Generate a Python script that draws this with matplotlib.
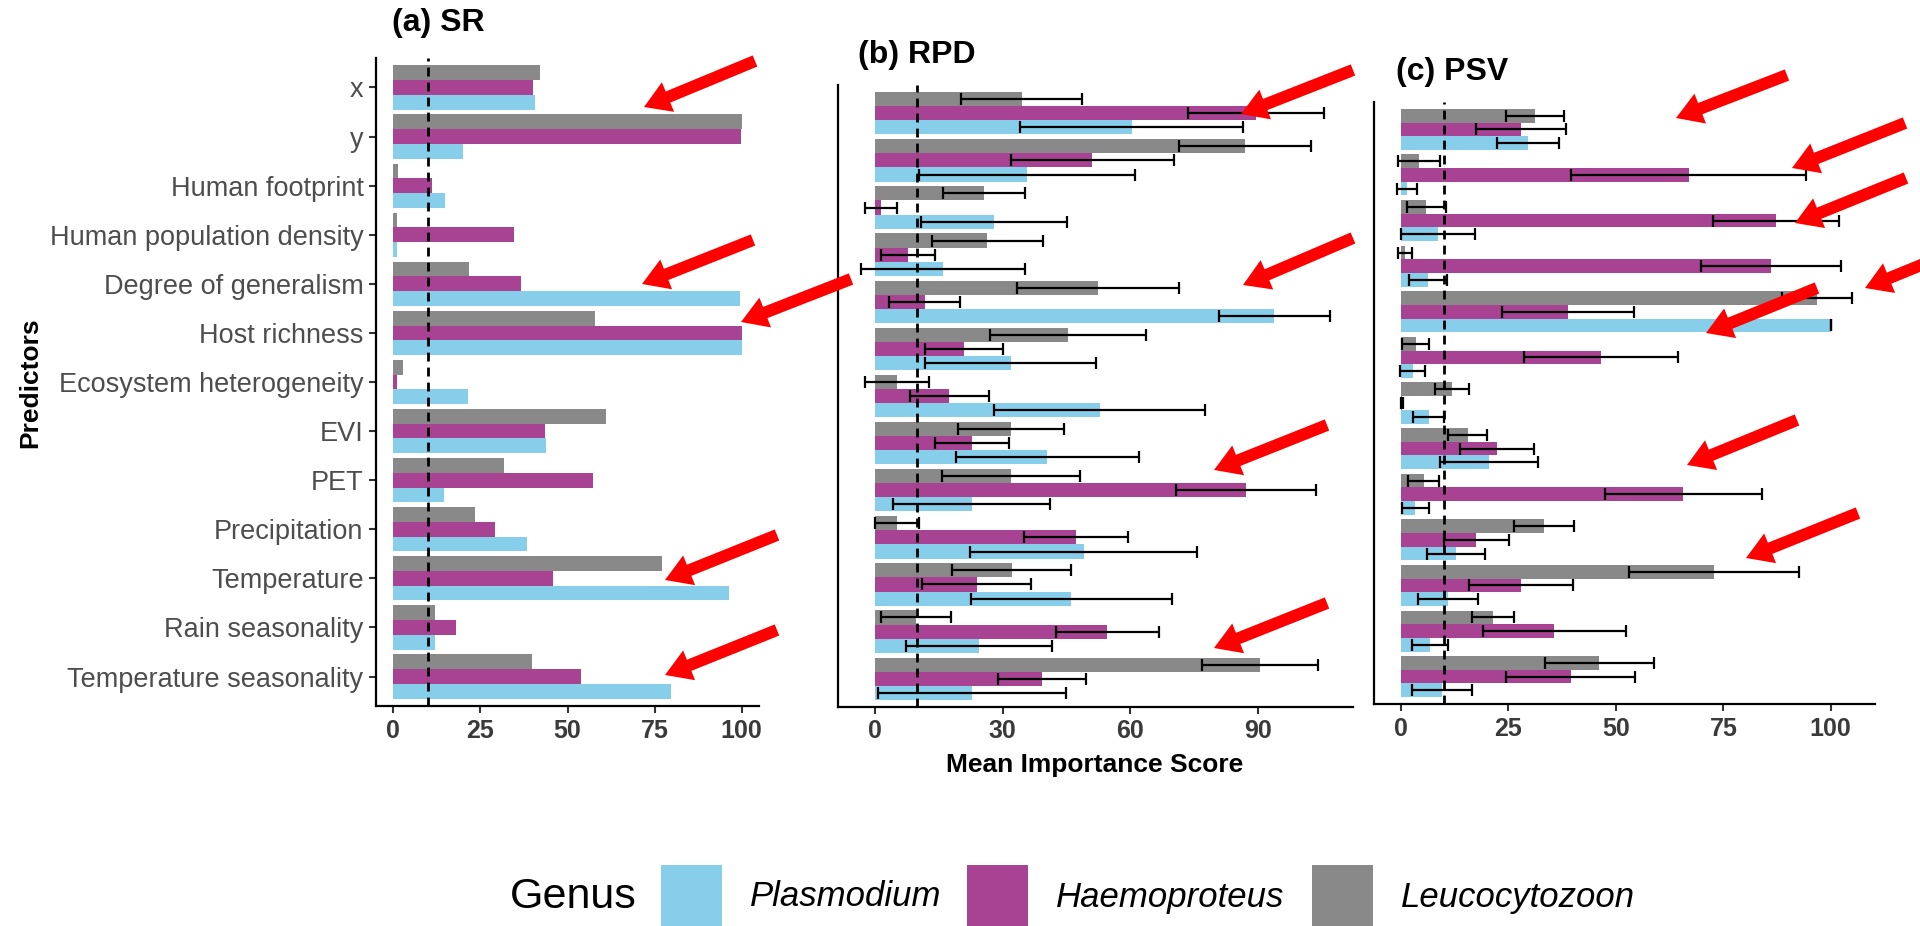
import numpy as np
import matplotlib
matplotlib.use("Agg")
import matplotlib.pyplot as plt
from matplotlib.patches import FancyArrow, Rectangle

plt.rcParams['font.family'] = ['Liberation Sans', 'DejaVu Sans']

# ---------------- data ----------------
predictors = ["x", "y", "Human footprint", "Human population density",
              "Degree of generalism", "Host richness", "Ecosystem heterogeneity",
              "EVI", "PET", "Precipitation", "Temperature", "Rain seasonality",
              "Temperature seasonality"]

genera = ["Plasmodium", "Haemoproteus", "Leucocytozoon"]
genus_colors = ["#87CEEB", "#A84394", "#898989"]

# (a) SR
sr_plas = [40.6, 19.9, 14.7, 1.0, 99.5, 100, 21.3, 43.9, 14.6, 38.3, 96.5, 12.0, 79.6]
sr_haem = [40.2, 99.8, 11.2, 34.5, 36.6, 100, 1.0, 43.5, 57.3, 29.1, 45.8, 18.0, 53.8]
sr_leuc = [42.2, 100, 1.4, 1.0, 21.6, 58.0, 2.8, 61.2, 31.7, 23.3, 77.0, 12.0, 39.8]

# (b) RPD: mean and sd
rpd_plas = [60.3, 35.7, 28.0, 16.1, 93.7, 31.9, 52.8, 40.5, 22.8, 49.0, 46.1, 24.5, 22.8]
rpd_plas_sd = [26.2, 25.3, 17.2, 19.2, 13.0, 20.0, 24.7, 21.4, 18.4, 26.6, 23.6, 17.2, 22.0]
rpd_haem = [89.4, 51.0, 1.5, 7.9, 11.7, 21.0, 17.5, 22.8, 87.1, 47.2, 23.9, 54.6, 39.3]
rpd_haem_sd = [15.9, 19.1, 3.7, 6.3, 8.4, 9.1, 9.3, 8.7, 16.5, 12.2, 12.7, 12.0, 10.3]
rpd_leuc = [34.5, 86.9, 25.6, 26.4, 52.4, 45.3, 5.3, 32.0, 32.0, 5.3, 32.1, 9.7, 90.3]
rpd_leuc_sd = [14.2, 15.5, 9.6, 13.0, 19.0, 18.3, 7.5, 12.4, 16.2, 5.2, 13.9, 8.3, 13.6]

# (c) PSV: mean and sd
psv_plas = [29.6, 1.3, 8.6, 6.2, 100, 2.7, 6.4, 20.4, 3.3, 12.8, 10.9, 6.7, 9.6]
psv_plas_sd = [7.2, 2.3, 8.6, 4.4, 0.0, 2.9, 3.6, 11.4, 3.1, 6.7, 7.0, 4.2, 7.0]
psv_haem = [28.0, 66.9, 87.3, 86.2, 38.9, 46.6, 0.2, 22.3, 65.7, 17.5, 28.0, 35.7, 39.5]
psv_haem_sd = [10.5, 27.3, 14.7, 16.3, 15.4, 17.9, 0.3, 8.7, 18.3, 7.6, 12.1, 16.7, 15.0]
psv_leuc = [31.2, 4.2, 5.9, 0.9, 96.8, 3.4, 11.9, 15.5, 5.3, 33.3, 72.8, 21.4, 46.1]
psv_leuc_sd = [6.8, 4.8, 4.5, 1.7, 8.2, 3.2, 3.9, 4.6, 3.6, 7.0, 19.7, 4.8, 12.7]

threshold = 10

x_ticks_sr = [0, 25, 50, 75, 100]
x_ticks_rpd = [0, 30, 60, 90]
x_ticks_psv = [0, 25, 50, 75, 100]

# highlight arrows (tail x, tail y, tip x, tip y) in figure pixels
highlight_arrows = [
    (755, 61, 644, 107), (753, 240, 642, 284), (851, 279, 741, 322),
    (777, 535, 665, 580), (777, 630, 665, 675),
    (1353, 70, 1241, 114), (1353, 238, 1243, 285),
    (1327, 425, 1214, 470), (1327, 603, 1214, 648),
    (1787, 75, 1676, 118), (1905, 123, 1792, 168), (1906, 178, 1795, 223),
    (1975, 243, 1865, 288), (1817, 288, 1706, 333),
    (1797, 420, 1687, 465), (1858, 513, 1746, 558),
]

# ---------------- figure ----------------
W, H = 1920, 926
fig = plt.figure(figsize=(W / 100, H / 100), dpi=100)
fig.patch.set_facecolor("white")


def px_axes(left, top, right, bottom):
    return fig.add_axes([left / W, 1 - bottom / H, (right - left) / W, (bottom - top) / H])


def draw_panel(ax, means, sds, ticks, show_labels):
    n = len(predictors)
    ypos = np.arange(n)
    bar_h = 0.3
    # y axis runs downward: Leucocytozoon on top, Haemoproteus middle,
    # Plasmodium at the bottom of each group
    offsets = [-bar_h, 0.0, bar_h]
    lo, hi = 0.0, 0.0
    for g in range(3):
        m = np.asarray(means[g], dtype=float)
        ax.barh(ypos + offsets[g], m, height=bar_h, color=genus_colors[::-1][g],
                edgecolor="none", zorder=2)
        hi = max(hi, m.max())
        if sds is not None:
            s = np.asarray(sds[g], dtype=float)
            ax.errorbar(m, ypos + offsets[g], xerr=s, fmt="none", ecolor="black",
                        elinewidth=1.6, capsize=4, capthick=1.6, zorder=4)
            lo = min(lo, (m - s).min())
            hi = max(hi, (m + s).max())
    span = hi - lo
    ax.set_xlim(lo - 0.05 * span, hi + 0.05 * span)
    ax.set_ylim(n - 0.4, -0.6)
    ax.axvline(threshold, color="black", lw=2.0, ls=(0, (3.2, 2.2)), zorder=3)

    for side in ("top", "right"):
        ax.spines[side].set_visible(False)
    for side in ("left", "bottom"):
        ax.spines[side].set_linewidth(1.6)
        ax.spines[side].set_color("black")
    ax.set_xticks(ticks)
    ax.set_xticklabels([str(t) for t in ticks])
    ax.tick_params(axis="x", length=5, width=1.5, color="#333333", pad=4,
                   labelsize=18, labelcolor="#3a3a3a")
    for lab in ax.get_xticklabels():
        lab.set_fontweight("bold")
    if show_labels:
        ax.set_yticks(ypos)
        ax.set_yticklabels(predictors)
        ax.tick_params(axis="y", length=5, width=1.5, color="#333333", pad=4,
                       labelsize=19.5, labelcolor="#4D4D4D")
    else:
        ax.set_yticks([])
    ax.set_facecolor("none")


# series passed in drawing order: Leucocytozoon, Haemoproteus, Plasmodium
ax_a = px_axes(376, 58, 759, 706)
draw_panel(ax_a, [sr_leuc, sr_haem, sr_plas], None, x_ticks_sr, True)

ax_b = px_axes(838, 85, 1353, 707)
draw_panel(ax_b, [rpd_leuc, rpd_haem, rpd_plas],
           [rpd_leuc_sd, rpd_haem_sd, rpd_plas_sd], x_ticks_rpd, False)

ax_c = px_axes(1374, 102, 1875, 704)
draw_panel(ax_c, [psv_leuc, psv_haem, psv_plas],
           [psv_leuc_sd, psv_haem_sd, psv_plas_sd], x_ticks_psv, False)

# panel titles and axis titles
fig.text(392 / W, 1 - 23 / H, "(a) SR", fontsize=23, fontweight="bold",
         ha="left", va="center")
fig.text(858 / W, 1 - 55 / H, "(b) RPD", fontsize=23, fontweight="bold",
         ha="left", va="center")
fig.text(1396 / W, 1 - 72 / H, "(c) PSV", fontsize=23, fontweight="bold",
         ha="left", va="center")
fig.text(1095 / W, 1 - 765 / H, "Mean Importance Score", fontsize=19,
         fontweight="bold", ha="center", va="center")
fig.text(30 / W, 1 - 383 / H, "Predictors", fontsize=19, fontweight="bold",
         rotation=90, ha="center", va="center")

# overlay in pixel coordinates for legend and highlight arrows
ov = fig.add_axes([0, 0, 1, 1], zorder=10)
ov.set_xlim(0, W)
ov.set_ylim(H, 0)
ov.axis("off")
ov.patch.set_alpha(0)

ov.text(510, 897, "Genus", fontsize=31, ha="left", va="center", color="black")
key_x = [661, 967, 1312]
for kx, name, col in zip(key_x, genera, genus_colors):
    ov.add_patch(Rectangle((kx, 865), 61, 66, facecolor=col, edgecolor="none"))
    ov.text(kx + 89, 897, name, fontsize=25, style="italic", ha="left",
            va="center", color="black")

for tx, ty, hx, hy in highlight_arrows:
    ov.add_patch(FancyArrow(tx, ty, hx - tx, hy - ty, width=12, head_width=32,
                            head_length=26, length_includes_head=True,
                            color="#FF0000", lw=0))

fig.savefig("out.png", dpi=100)
